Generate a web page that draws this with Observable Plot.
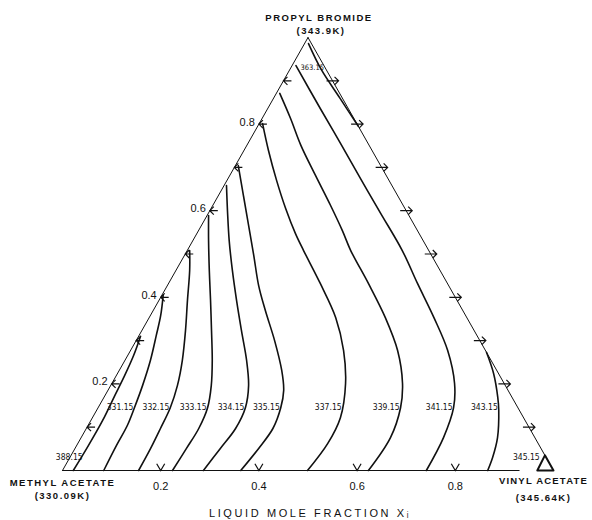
<!DOCTYPE html>
<html><head><meta charset="utf-8">
<script src="https://cdn.jsdelivr.net/npm/d3@7"></script>
<script src="https://cdn.jsdelivr.net/npm/@observablehq/plot@0.6"></script>
<style>body{margin:0;background:#fff} svg{display:block}</style>
</head><body><div id="chart"></div>
<script>
// Ternary compositions: vinyl acetate (x2, bottom axis) and propyl bromide (x3, left axis)
const isothermLabels = ["388.15","331.15","332.15","333.15","334.15","335.15","337.15","339.15","341.15","343.15","345.15","363.15"];

const vinyl_330 = [0.022,0.024,0.024,0.020,0.017,0.012,0.004];
const bromide_330 = [0,0.058,0.115,0.173,0.219,0.266,0.310];
const vinyl_331 = [0.084,0.081,0.080,0.074,0.065,0.052,0.035,0.021,0.003];
const bromide_331 = [0,0.058,0.104,0.145,0.196,0.254,0.312,0.358,0.404];
const vinyl_332 = [0.155,0.154,0.151,0.147,0.136,0.117,0.089,0.058,0.028,0.005];
const bromide_332 = [0,0.051,0.097,0.145,0.196,0.254,0.323,0.393,0.462,0.508];
const vinyl_333 = [0.224,0.227,0.229,0.223,0.205,0.178,0.142,0.105,0.068,0.032,0.003];
const bromide_333 = [0,0.051,0.097,0.145,0.196,0.254,0.323,0.393,0.462,0.531,0.589];
const vinyl_334 = [0.287,0.296,0.304,0.300,0.281,0.248,0.203,0.158,0.115,0.074,0.036,0.005];
const bromide_334 = [0,0.051,0.097,0.145,0.196,0.254,0.323,0.393,0.462,0.531,0.600,0.658];
const vinyl_335 = [0.363,0.374,0.380,0.372,0.358,0.331,0.282,0.228,0.186,0.141,0.096,0.051,0.006];
const bromide_335 = [0,0.051,0.097,0.145,0.185,0.231,0.300,0.370,0.427,0.497,0.566,0.635,0.704];
const vinyl_337 = [0.499,0.509,0.505,0.476,0.434,0.380,0.309,0.237,0.201,0.152,0.101,0.050,0.007];
const bromide_337 = [0,0.062,0.122,0.201,0.277,0.353,0.432,0.508,0.547,0.605,0.670,0.739,0.801];
const vinyl_339 = [0.623,0.630,0.616,0.592,0.544,0.481,0.407,0.333,0.293,0.240,0.175,0.110,0.058,0.007];
const bromide_339 = [0,0.076,0.145,0.201,0.277,0.353,0.432,0.508,0.554,0.612,0.681,0.751,0.813,0.871];
const vinyl_341 = [0.741,0.738,0.724,0.698,0.646,0.580,0.507,0.438,0.351,0.270,0.189,0.107,0.008];
const bromide_341 = [0,0.076,0.145,0.201,0.277,0.353,0.432,0.508,0.594,0.674,0.755,0.836,0.935];
const vinyl_343 = [0.866,0.861,0.848,0.819,0.802,0.766,0.727];
const bromide_343 = [0,0.030,0.076,0.139,0.169,0.224,0.273];
const vinyl_345 = [0.967,1.0,0.965,0.967];
const bromide_345 = [0,0,0.035,0];
const vinyl_363 = [0.008,0.065,0.135,0.205];
const bromide_363 = [0.986,0.925,0.860,0.795];

// label anchor compositions (on each isotherm)
const labelVinyl = [0.028,0.074,0.147,0.223,0.300,0.372,0.498,0.616,0.724,0.816,0.959,0.019];
const labelBromide = [0.030,0.145,0.145,0.145,0.145,0.145,0.145,0.145,0.145,0.145,0.030,0.931];

// axis ticks
const edgeTicks = [0.1,0.2,0.3,0.4,0.5,0.6,0.7,0.8,0.9];
const baseTicks = [0.2,0.4,0.6,0.8];
const tickLabels = ["0.2","0.4","0.6","0.8"];

const components = ["METHYL ACETATE","VINYL ACETATE","PROPYL BROMIDE"];
const boilingPoints = ["(330.09K)","(345.64K)","(343.9K)"];
const compVinyl = [0,1,0];
const compBromide = [0,0,1];
const axisTitle = "LIQUID MOLE FRACTION Xᵢ";

const series = [
  [vinyl_330,bromide_330],[vinyl_331,bromide_331],[vinyl_332,bromide_332],[vinyl_333,bromide_333],
  [vinyl_334,bromide_334],[vinyl_335,bromide_335],[vinyl_337,bromide_337],[vinyl_339,bromide_339],
  [vinyl_341,bromide_341],[vinyl_343,bromide_343],[vinyl_345,bromide_345],[vinyl_363,bromide_363]
];

const tx = (v, b) => v + b / 2;   // ternary -> cartesian
const rows = series.flatMap(([vs, bs], k) => vs.map((v, i) => ({label: isothermLabels[k], v, b: bs[i]})));
const smooth = rows.filter(d => d.label !== "345.15");
const corner = rows.filter(d => d.label === "345.15");
const labels = isothermLabels.map((l, i) => ({label: l, v: labelVinyl[i], b: labelBromide[i]}));

const sym = f => ({draw(ctx, size) { const r = Math.sqrt(size / Math.PI); f(ctx, r); }});
const leftArrow = sym((c, r) => { c.moveTo(0, 0); c.lineTo(2 * r, 0); c.moveTo(r, -r); c.lineTo(0, 0); c.lineTo(r, r); });
const rightArrow = sym((c, r) => { c.moveTo(-1.5 * r, 0); c.lineTo(1.5 * r, 0); c.moveTo(0.5 * r, -r); c.lineTo(1.5 * r, 0); c.lineTo(0.5 * r, r); });
const downV = sym((c, r) => { c.moveTo(-r, -1.7 * r); c.lineTo(0, 0); c.lineTo(r, -1.7 * r); });

const edges = [
  {e: "L", v: 0, b: 0}, {e: "L", v: 0, b: 1},
  {e: "R", v: 0, b: 1}, {e: "R", v: 0.965, b: 0.035},
  {e: "B", v: 0, b: 0}, {e: "B", v: 0.93, b: 0}
];

const font = "Liberation Sans, Arial, sans-serif";
// one text mark per vertex label line (constant offsets)
const offsets = [[0, 12, 0, 25], [-10, 10, -10, 27], [11, -20, 13, -7]];
const vertexMarks = components.flatMap((name, i) => {
  const [dx1, dy1, dx2, dy2] = offsets[i];
  const at = {x: () => tx(compVinyl[i], compBromide[i]), y: () => compBromide[i]};
  const style = {fontSize: 9.5, fontWeight: "bold", fontFamily: font, fill: "#111"};
  return [
    Plot.text([name], {...at, text: d => d, dx: dx1, dy: dy1, ...style}),
    Plot.text([boilingPoints[i]], {...at, text: d => d, dx: dx2, dy: dy2, ...style})
  ];
});

const chart = Plot.plot({
  width: 592, height: 520,
  margin: 0,
  x: {domain: [0, 1], range: [62, 553], axis: null},
  y: {domain: [0, 1], range: [470, 37], axis: null},
  marks: [
    Plot.line(edges, {x: d => tx(d.v, d.b), y: "b", z: "e", stroke: "#111", strokeWidth: 1}),
    Plot.line(smooth, {x: d => tx(d.v, d.b), y: "b", z: "label", curve: "catmull-rom", stroke: "#111", strokeWidth: 1.6}),
    Plot.line(corner, {x: d => tx(d.v, d.b), y: "b", stroke: "#111", strokeWidth: 2}),
    Plot.dot(edgeTicks, {x: b => tx(0, b), y: b => b, symbol: leftArrow, r: 4, stroke: "#111", fill: "none", strokeWidth: 1.2}),
    Plot.dot(edgeTicks, {x: b => tx(1 - b, b), y: b => b, symbol: rightArrow, r: 4, stroke: "#111", fill: "none", strokeWidth: 1.2}),
    Plot.dot(baseTicks, {x: v => tx(v, 0), y: () => 0, symbol: downV, r: 4, stroke: "#111", fill: "none", strokeWidth: 1.2}),
    Plot.text(labels.filter(d => d.label !== "363.15"), {x: d => tx(d.v, d.b), y: "b", text: "label", textAnchor: "end",
      dx: -1, fontSize: 8.5, fontFamily: "DejaVu Sans Condensed, Liberation Sans, sans-serif", fill: "#111"}),
    Plot.text(labels.filter(d => d.label === "363.15"), {x: d => tx(d.v, d.b), y: "b", text: "label", textAnchor: "start",
      dx: 0, fontSize: 7.5, fontFamily: "DejaVu Sans Condensed, Liberation Sans, sans-serif", fill: "#111"}),
    Plot.text(baseTicks, {x: v => tx(v, 0), y: () => 0, text: (v, i) => tickLabels[i], dy: 16, fontSize: 11, fontFamily: font, fill: "#111"}),
    Plot.text(baseTicks, {x: b => tx(0, b), y: b => b, text: (v, i) => tickLabels[i], textAnchor: "end", dx: -4, dy: -2, fontSize: 11, fontFamily: font, fill: "#111"}),
    ...vertexMarks,
    Plot.text([axisTitle], {x: () => tx(0.5, 0), y: () => 0, text: d => d, dx: 2, dy: 43, fontSize: 11, fontFamily: font, fill: "#111"})
  ]
});
const spaced = new Set([...components, ...boilingPoints]);
for (const t of chart.querySelectorAll("text")) {
  const s = t.textContent;
  if (spaced.has(s)) t.style.letterSpacing = s === "VINYL ACETATE" ? "1.2px" : "1.5px";
  else if (s === axisTitle) t.style.letterSpacing = "2.6px";
}
document.getElementById("chart").appendChild(chart);
</script>
</body></html>
